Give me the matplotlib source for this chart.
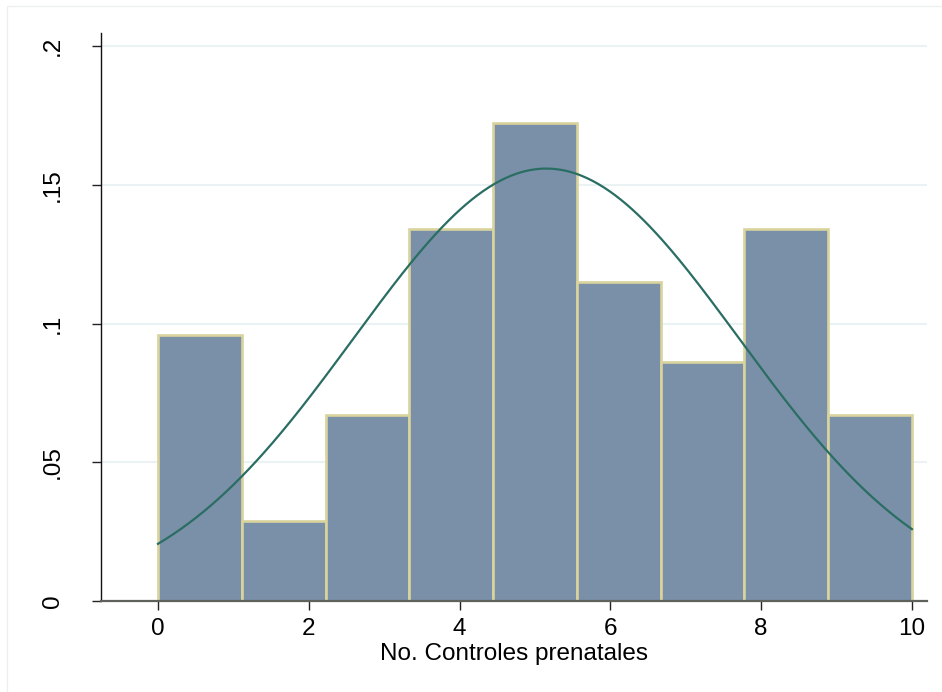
import numpy as np
import matplotlib.pyplot as plt
from matplotlib.patches import Rectangle

plt.rcParams['font.family'] = ['Liberation Sans', 'DejaVu Sans']

# histogram: 9 bins over 0..10, counts per bin (N = 94)
bin_edges = np.linspace(0, 10, 10)
counts = [10, 3, 7, 14, 18, 12, 9, 14, 7]
# normal curve parameters
mu = 5.15
sigma = 2.56

yticks = [0, 0.05, 0.1, 0.15, 0.2]
ytick_labels = ['0', '.05', '.1', '.15', '.2']
xticks = [0, 2, 4, 6, 8, 10]

counts = np.array(counts, dtype=float)
widths = np.diff(bin_edges)
density = counts / (counts.sum() * widths)

fig = plt.figure(figsize=(9.42, 6.92), dpi=100)
# faint outer frame (Stata graph region)
fig.patches.append(Rectangle((7 / 942, -0.1), 1.2, 1 - 6 / 692 + 0.1,
                             transform=fig.transFigure, fill=False,
                             edgecolor='#eef0f0', lw=1.0))
ax = fig.add_axes([101 / 942, 1 - 601 / 692, (927 - 101) / 942, (601 - 33) / 692])

for y in yticks:
    ax.axhline(y, color='#eaf2f3', lw=1.5, zorder=0)

ax.bar(bin_edges[:-1], density, width=widths, align='edge',
       color='#7a90a8', edgecolor='#d9d39c', linewidth=1.9, zorder=2)

xs = np.linspace(0, 10, 400)
pdf = np.exp(-0.5 * ((xs - mu) / sigma) ** 2) / (sigma * np.sqrt(2 * np.pi))
ax.plot(xs, pdf, color='#2a6e63', lw=1.6, zorder=3)

ax.set_xlim(-0.756, 10.2)
ax.set_ylim(0, 0.2047)

ax.set_xticks(xticks)
ax.set_xticklabels([str(v) for v in xticks])
ax.set_yticks(yticks)
ax.set_yticklabels(ytick_labels, rotation=90, va='center')

ax.tick_params(axis='both', labelsize=17.5, length=6.5, width=1.0, color='#222222')
ax.tick_params(axis='x', pad=6)
ax.tick_params(axis='y', pad=20)

ax.spines['top'].set_visible(False)
ax.spines['right'].set_visible(False)
ax.spines['left'].set_color('#111111')
ax.spines['left'].set_linewidth(1.0)
ax.spines['bottom'].set_color('#5f625c')
ax.spines['bottom'].set_linewidth(1.6)

ax.set_xlabel('No. Controles prenatales', fontsize=17.5, labelpad=2)

fig.savefig('out.png', dpi=100)
